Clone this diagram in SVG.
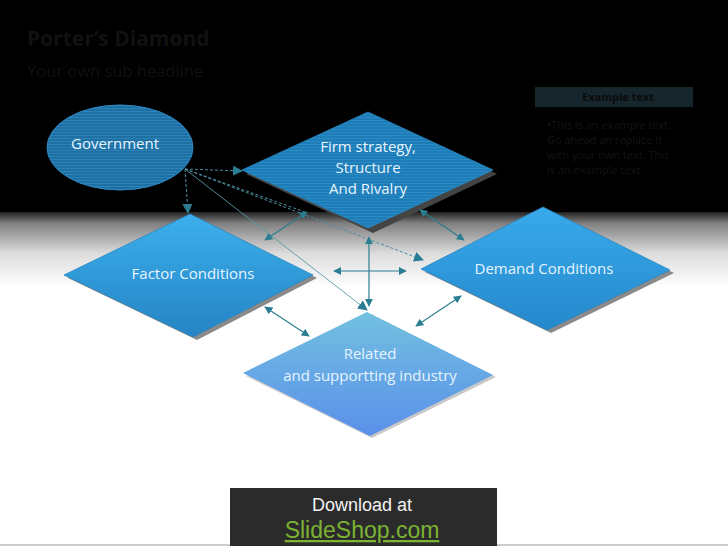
<svg xmlns="http://www.w3.org/2000/svg" width="728" height="546" viewBox="0 0 728 546">
<defs>
<linearGradient id="bg" x1="0" y1="0" x2="0" y2="1">
<stop offset="0" stop-color="#222"/><stop offset="0.15" stop-color="#808080"/><stop offset="0.55" stop-color="#dcdcdc"/><stop offset="1" stop-color="#ffffff"/>
</linearGradient>
<pattern id="stripeG" width="4" height="3" patternUnits="userSpaceOnUse">
<rect width="4" height="3" fill="#1f6fa2"/><rect width="4" height="1" fill="#2b82b8"/>
</pattern>
<pattern id="stripeF" width="4" height="3" patternUnits="userSpaceOnUse">
<rect width="4" height="3" fill="#1e7cb6"/><rect width="4" height="1" fill="#2a8ac6"/>
</pattern>
<linearGradient id="gFactor" x1="0" y1="0" x2="0" y2="1">
<stop offset="0" stop-color="#3cb0ec"/><stop offset="1" stop-color="#2583c4"/>
</linearGradient>
<linearGradient id="gDemand" x1="0" y1="0" x2="0" y2="1">
<stop offset="0" stop-color="#38aaea"/><stop offset="1" stop-color="#2588cc"/>
</linearGradient>
<linearGradient id="gRel" x1="0" y1="0" x2="0" y2="1">
<stop offset="0" stop-color="#72c0e0"/><stop offset="1" stop-color="#5a90ea"/>
</linearGradient>
<radialGradient id="shade" cx="0.5" cy="1" r="0.5">
<stop offset="0" stop-color="#555"/><stop offset="0.6" stop-color="#aaa" stop-opacity="0.6"/><stop offset="1" stop-color="#fff" stop-opacity="0"/>
</radialGradient>
<marker id="ah" viewBox="0 0 10 10" refX="9" refY="5" markerWidth="8" markerHeight="8" markerUnits="userSpaceOnUse" orient="auto-start-reverse">
<path d="M0,0 L10,5 L0,10 z" fill="#2a7d92"/>
</marker>
<marker id="ah2" viewBox="0 0 10 10" refX="9" refY="5" markerWidth="10" markerHeight="10" markerUnits="userSpaceOnUse" orient="auto-start-reverse">
<path d="M0,0 L10,5 L0,10 z" fill="#2a7d92"/>
</marker>
</defs>
<style>
.lbl{font-family:"Open Sans",Lato,"Liberation Sans",sans-serif;font-size:15px;fill:#e6f4ff;text-anchor:middle}
.conn{stroke:#2a7d92;stroke-width:1.2;fill:none}
.dash{stroke:#4a8ea0;stroke-width:1;stroke-dasharray:3,2;fill:none}
.thin{stroke:#5a98a8;stroke-width:0.9;fill:none}
</style>
<rect width="728" height="546" fill="#000"/>
<rect x="0" y="212" width="728" height="334" fill="#fff"/>
<rect x="0" y="212" width="728" height="75" fill="url(#bg)"/>
<line x1="0" y1="545" x2="728" y2="545" stroke="#999" stroke-width="1"/>
<text x="27" y="46" font-family="'Open Sans',Lato,'Liberation Sans',sans-serif" font-size="21" font-weight="bold" fill="#111">Porter’s Diamond</text>
<text x="27" y="77" font-family="'Open Sans',Lato,'Liberation Sans',sans-serif" font-size="16.5" fill="#111">Your own sub headline</text>
<g id="example">
<rect x="535" y="87" width="158" height="20" fill="#17262c"/>
<text x="618" y="101" font-family="'Open Sans',Lato,'Liberation Sans',sans-serif" font-size="11" font-weight="bold" fill="#0b0b0b" text-anchor="middle">Example text</text>
<g font-family="'Open Sans',Lato,'Liberation Sans',sans-serif" font-size="11" fill="#141414">
<text x="547" y="129">•This is an example text.</text>
<text x="547" y="144">Go ahead an replace it</text>
<text x="547" y="159">with your own text. This</text>
<text x="547" y="174">is an example text.</text>
</g>
</g>
<g id="government">
<ellipse cx="120" cy="147.5" rx="73" ry="42.5" fill="url(#stripeG)" stroke="#2c8ac4" stroke-width="1"/>
<text class="lbl" x="115" y="149">Government</text>
</g>
<g id="firm">
<polygon points="372,116 497,174 373,233 246,174" fill="#444"/>
<polygon points="368,112 493,170 368,228 242,170" fill="url(#stripeF)" stroke="#2a8ac6" stroke-width="0.8"/>
<text class="lbl" x="368" y="152">Firm strategy,</text>
<text class="lbl" x="368" y="173">Structure</text>
<text class="lbl" x="368" y="194">And Rivalry</text>
</g>
<g id="factor">
<polygon points="194,217 317,278 197,340 68,278" fill="#8a8a8a"/>
<polygon points="190,214 313,275 193,337 64,275" fill="url(#gFactor)" stroke="#2a86c4" stroke-width="0.8"/>
<text class="lbl" x="193" y="279">Factor Conditions</text>
</g>
<g id="demand">
<polygon points="547,210 674,273 551,333 425,272" fill="#8a8a8a"/>
<polygon points="543,207 670,270 547,330 421,269" fill="url(#gDemand)" stroke="#2a86c4" stroke-width="0.8"/>
<text class="lbl" x="544" y="274">Demand Conditions</text>
</g>
<g id="related">
<polygon points="370,314 496,377 372,438 246,376" fill="#c8c8c8"/>
<polygon points="367,312 493,375 370,436 243,373" fill="url(#gRel)"/>
<text class="lbl" x="370" y="359">Related</text>
<text class="lbl" x="370" y="381">and supportting industry</text>
</g>
<g id="connectors">
<line class="dash" x1="185" y1="169" x2="242" y2="171" marker-end="url(#ah2)"/>
<line class="dash" x1="185" y1="169" x2="188" y2="213" marker-end="url(#ah2)"/>
<line class="dash" x1="185" y1="169" x2="305" y2="212"/>
<line class="dash" x1="185" y1="169" x2="423" y2="260" marker-end="url(#ah2)"/>
<line class="thin" x1="185" y1="169" x2="367" y2="310" marker-end="url(#ah2)"/>
<line class="conn" x1="265" y1="240" x2="307" y2="212" marker-start="url(#ah)" marker-end="url(#ah)"/>
<line class="conn" x1="420" y1="210" x2="464" y2="240" marker-start="url(#ah)" marker-end="url(#ah)"/>
<line class="conn" x1="334" y1="271" x2="406" y2="271" marker-start="url(#ah)" marker-end="url(#ah)"/>
<line class="conn" x1="369" y1="237" x2="369" y2="306" marker-start="url(#ah)" marker-end="url(#ah)"/>
<line class="conn" x1="265" y1="307" x2="309" y2="336" marker-start="url(#ah)" marker-end="url(#ah)"/>
<line class="conn" x1="461" y1="296" x2="416" y2="326" marker-start="url(#ah)" marker-end="url(#ah)"/>
</g>
<g id="download">
<ellipse cx="362" cy="490" rx="130" ry="28" fill="url(#shade)"/>
<rect x="230" y="488" width="267" height="58" fill="#2b2b2b"/>
<text x="362" y="511" font-family="'Liberation Sans',Arial,sans-serif" font-size="18" fill="#f2f2f2" text-anchor="middle">Download at</text>
<text x="362" y="538" font-family="'Liberation Sans',Arial,sans-serif" font-size="23" fill="#7cb332" text-anchor="middle" text-decoration="underline">SlideShop.com</text>
</g>
</svg>
